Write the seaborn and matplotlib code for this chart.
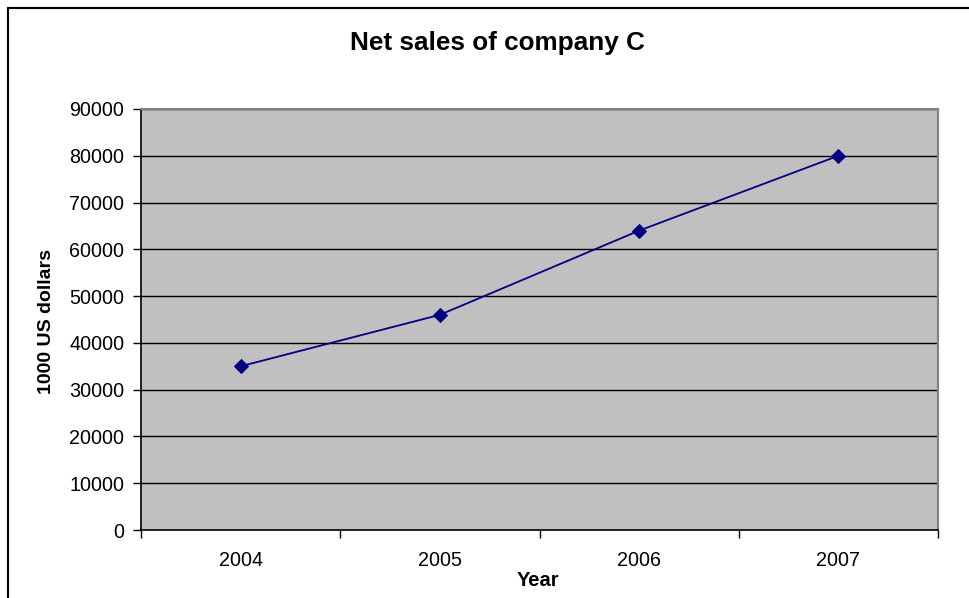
import matplotlib
matplotlib.use("Agg")
import matplotlib.pyplot as plt
import seaborn as sns
import pandas as pd
from matplotlib.patches import Rectangle

years = ["2004", "2005", "2006", "2007"]
net_sales = [35000, 46000, 64000, 80000]
y_ticks = [0, 10000, 20000, 30000, 40000, 50000, 60000, 70000, 80000, 90000]

sns.set_theme(style="white")
plt.rcParams["font.family"] = ["Liberation Sans", "DejaVu Sans"]
plt.rcParams["text.color"] = "black"

df = pd.DataFrame({"pos": range(len(years)), "sales": net_sales})

fig = plt.figure(figsize=(9.70, 5.98), dpi=100)
ax = fig.add_axes([141/970, 1-530/598, (938-141)/970, (530-109)/598])
ax.set_facecolor("#C0C0C0")

sns.lineplot(data=df, x="pos", y="sales", ax=ax, color="#000080", linewidth=1.3,
             marker="D", markersize=7, markeredgecolor="#000080", markerfacecolor="#000080",
             zorder=5)

ax.set_xlim(-0.5, len(years) - 0.5)
ax.set_ylim(0, 90000)
ax.set_yticks(y_ticks)
ax.set_yticklabels([str(v) for v in y_ticks], fontsize=14.2, color="black")
for v in y_ticks[1:]:
    ax.axhline(v, color="black", linewidth=1.0, zorder=1)

# category boundaries as ticks, labels at centers
ax.set_xticks([i - 0.5 for i in range(len(years) + 1)])
ax.set_xticklabels([""] * (len(years) + 1))
ax.set_xticks(range(len(years)), minor=True)
ax.set_xticklabels(years, minor=True, fontsize=14.2, color="black")
ax.tick_params(axis="x", which="minor", length=0, pad=15)
ax.tick_params(axis="x", which="major", length=6, width=1, color="black", direction="out", bottom=True)
ax.tick_params(axis="y", length=6, width=1, color="black", direction="out", left=True, pad=6)

ax.set_xlabel("")
ax.set_ylabel("")

for side in ["top", "right"]:
    ax.spines[side].set_color("#808080")
    ax.spines[side].set_linewidth(1.5)
for side in ["left", "bottom"]:
    ax.spines[side].set_color("black")
    ax.spines[side].set_linewidth(1.2)
ax.spines["bottom"].set_zorder(6)

fig.text(497/970, 1-43/598, "Net sales of company C", ha="center", va="center",
         fontsize=18.8, fontweight="bold", color="black")
fig.text(47/970, 1-321/598, "1000 US dollars", ha="center", va="center",
         rotation=90, fontsize=14, fontweight="bold", color="black")
fig.text(538/970, 1-581/598, "Year", ha="center", va="center",
         fontsize=14.5, fontweight="bold", color="black")

# outer chart border (cut off at right and bottom)
fig.patches.append(Rectangle((8/970, -0.05), 1.2, 1 - 8/598 + 0.05,
                             transform=fig.transFigure, fill=False,
                             edgecolor="black", linewidth=1.5))

fig.savefig("out.png", dpi=100)
